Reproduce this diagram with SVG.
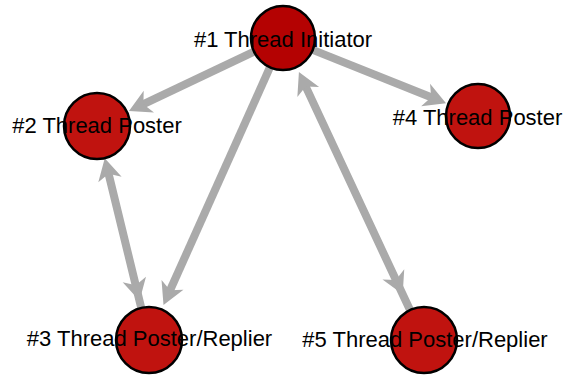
<svg xmlns="http://www.w3.org/2000/svg" width="563" height="375" viewBox="0 0 563 375">
<style>
.edge{fill:none;stroke:#aaaaaa;stroke-width:8}
.node{stroke:#000;stroke-width:2.5}
.lbl{font-family:"Liberation Sans",Arial,sans-serif;font-size:22px;fill:#000;text-anchor:middle}
</style>
<defs>
<marker id="arr" markerUnits="userSpaceOnUse" viewBox="-12 -13 28 26" refX="0" refY="0" markerWidth="28" markerHeight="26" orient="auto-start-reverse" overflow="visible">
<path d="M12 0 L-10 -12 L-4 0 L-10 12 Z" fill="#aaaaaa"/>
</marker>
</defs>
<rect width="563" height="375" fill="#fff"/>
<g id="connectors">
<path class="edge" d="M254.1 51.7 L139.8 105.9" marker-end="url(#arr)"/>
<path class="edge" d="M312.7 49.9 L434.9 98.7" marker-end="url(#arr)"/>
<path class="edge" d="M270 67.2 L168.4 294" marker-end="url(#arr)"/>
<path class="edge" d="M107.6 169.8 L136.7 289.2 L141.2 307.7" marker-start="url(#arr)" marker-mid="url(#arr)"/>
<path class="edge" d="M304 82.9 L397.6 283.5 L409.9 309.8" marker-start="url(#arr)" marker-mid="url(#arr)"/>
</g>
<g id="node1">
<circle class="node" cx="283" cy="38" r="32" fill="#b40202"/>
<text class="lbl" x="283" y="47">#1 Thread Initiator</text>
</g>
<g id="node2">
<circle class="node" cx="97" cy="126" r="33" fill="#c0130f"/>
<text class="lbl" x="97" y="133">#2 Thread Poster</text>
</g>
<g id="node3">
<circle class="node" cx="149" cy="340" r="33" fill="#c0130f"/>
<text class="lbl" x="149.5" y="346">#3 Thread Poster/Replier</text>
</g>
<g id="node4">
<circle class="node" cx="478" cy="116" r="32" fill="#c0130f"/>
<text class="lbl" x="477.5" y="125">#4 Thread Poster</text>
</g>
<g id="node5">
<circle class="node" cx="424" cy="340" r="33" fill="#c0130f"/>
<text class="lbl" x="425" y="347">#5 Thread Poster/Replier</text>
</g>
</svg>
